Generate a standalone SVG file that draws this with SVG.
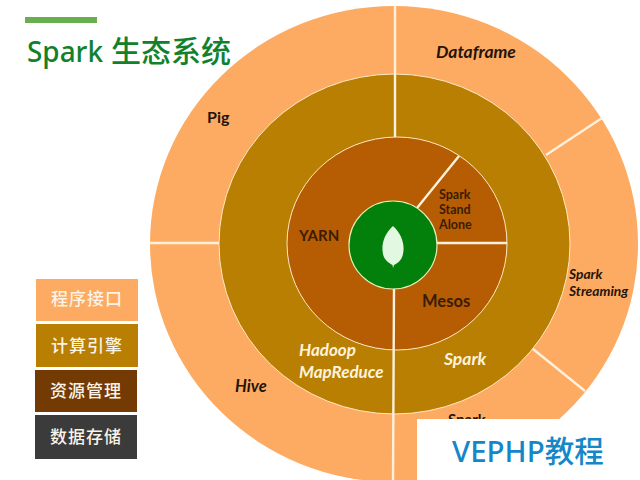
<svg xmlns="http://www.w3.org/2000/svg" width="640" height="480" viewBox="0 0 640 480">
<style>
text{font-family:"Lato","Noto Sans CJK SC",sans-serif;font-weight:700}
.d{fill:#3a1c06}
.dk{fill:#24140a}
.i{font-style:italic}
.w{fill:#fdf3dc}
.cn{font-family:"Noto Sans CJK SC",sans-serif;font-size:17px;font-weight:500;fill:#fbf3e6;text-anchor:middle;letter-spacing:1px}
.div{stroke:#fdf0dc;stroke-width:2.4;fill:none}
.ring{stroke:#fde9c4;stroke-width:1}
.t{font-family:"Noto Sans","Noto Sans CJK SC",sans-serif;font-weight:500}
</style>
<rect width="640" height="480" fill="#fff"/>
<rect x="25" y="17" width="72" height="6" fill="#6aaf4f"/>
<g id="title"><text class="t" x="27" y="62" font-size="29" fill="#12812c"><tspan textLength="76" lengthAdjust="spacingAndGlyphs">Spark</tspan> <tspan x="111" font-size="30">生态系统</tspan></text></g>
<g id="ring-interface"><ellipse cx="394" cy="244" rx="244" ry="238" fill="#fdab62"/></g>
<g id="ring-engine"><ellipse class="ring" cx="394.500" cy="244" rx="175.500" ry="170" fill="#b97f02"/></g>
<g id="ring-resource"><ellipse class="ring" cx="397" cy="243.500" rx="110" ry="106.500" fill="#b65c02"/></g>
<g id="connectors">
<path class="div" d="M395 6V137M394 288L393 480M150 243H219M437 243H507M417 208L459 156M546 155L602 118M533 349L585 391"/>
</g>
<g id="core"><circle cx="393" cy="245" r="44" fill="#037f0c" stroke="#e4f0b8" stroke-width="1.200"/>
<path d="M393 226C384 234 381 245 383 254C384 260 389 263 392.500 265L393 268L394 265C398 263 402 260 403 254C405 245 402 234 393 226Z" fill="#e3f8e0"/></g>
<g id="pig"><text class="dk" x="207" y="123" font-size="16">Pig</text></g>
<g id="dataframe"><text class="dk i" x="436" y="58" font-size="17.500">Dataframe</text></g>
<g id="spark-streaming"><text class="dk i" x="569" y="279" font-size="13.800">Spark</text><text class="dk i" x="569" y="296" font-size="13.800">Streaming</text></g>
<g id="spark-sql"><text class="dk" x="448" y="425" font-size="15">Spark</text></g>
<g id="hive"><text class="dk i" x="235" y="392" font-size="16.500">Hive</text></g>
<g id="hadoop"><text class="w i" x="299" y="356" font-size="17">Hadoop</text><text class="w i" x="299" y="378" font-size="17">MapReduce</text></g>
<g id="spark"><text class="w i" x="444" y="365" font-size="17.500">Spark</text></g>
<g id="yarn"><text class="d" x="299" y="241" font-size="15">YARN</text></g>
<g id="mesos"><text class="d" x="422" y="307" font-size="16.500">Mesos</text></g>
<g id="standalone"><text class="d" x="439" y="199" font-size="12.500">Spark</text><text class="d" x="439" y="214" font-size="12.500">Stand</text><text class="d" x="439" y="229" font-size="12.500">Alone</text></g>
<g id="legend-1"><rect x="36" y="279" width="102" height="42" fill="#fdab62"/><text class="cn" x="87" y="305">程序接口</text></g>
<g id="legend-2"><rect x="36" y="324" width="102" height="43" fill="#b97f02"/><text class="cn" x="87" y="352">计算引擎</text></g>
<g id="legend-3"><rect x="35" y="370" width="102" height="42" fill="#733a03"/><text class="cn" x="86" y="397">资源管理</text></g>
<g id="legend-4"><rect x="35" y="415" width="102" height="44" fill="#3b3b3b"/><text class="cn" x="86" y="443">数据存储</text></g>
<g id="watermark"><rect x="417" y="419" width="223" height="61" fill="#fff"/><text class="t" x="452" y="462" font-size="29.500" fill="#1487c9">VEPHP教程</text></g>
</svg>
